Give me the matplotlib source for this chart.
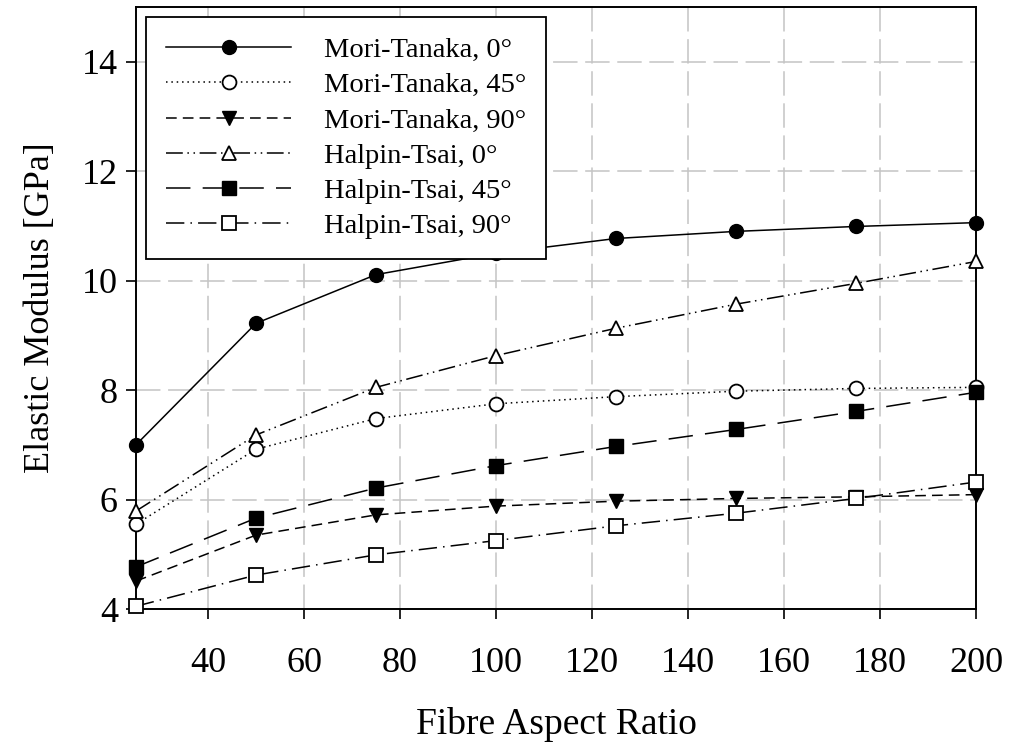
import numpy as np
import matplotlib.pyplot as plt

plt.rcParams['font.family'] = ['Liberation Serif', 'DejaVu Serif']

aspect = [25, 50, 75, 100, 125, 150, 175, 200]

mt_0 = [7.0, 9.22, 10.11, 10.5, 10.77, 10.90, 10.99, 11.06]
mt_45 = [5.55, 6.92, 7.48, 7.75, 7.88, 7.98, 8.03, 8.05]
mt_90 = [4.51, 5.35, 5.72, 5.88, 5.97, 6.02, 6.05, 6.09]
ht_0 = [5.79, 7.18, 8.05, 8.63, 9.13, 9.57, 9.95, 10.35]
ht_45 = [4.77, 5.66, 6.21, 6.62, 6.97, 7.28, 7.61, 7.96]
ht_90 = [4.05, 4.62, 4.99, 5.25, 5.52, 5.75, 6.02, 6.32]

labels = ['Mori-Tanaka, 0\u00b0', 'Mori-Tanaka, 45\u00b0', 'Mori-Tanaka, 90\u00b0',
          'Halpin-Tsai, 0\u00b0', 'Halpin-Tsai, 45\u00b0', 'Halpin-Tsai, 90\u00b0']

fig = plt.figure(figsize=(10.12, 7.44), dpi=100)
ax = fig.add_axes([136/1012, 1 - 609/744, 840/1012, 602/744])

ms = 10
lw = 1.1
kw = dict(color='black', lw=lw, ms=ms, mec='black', clip_on=False, zorder=3)
ax.plot(aspect, mt_0, ls='-', marker='o', mfc='black', label=labels[0], **kw)
ax.plot(aspect, mt_45, ls=(0, (1, 2.5)), marker='o', mfc='white', mew=1.3,
        label=labels[1], **kw)
ax.plot(aspect, mt_90, ls=(0, (7, 4)), marker='v', mfc='black', label=labels[2], **kw)
ax.plot(aspect, ht_0, ls=(0, (11, 3, 1, 3, 1, 3)), marker='^', mfc='white', mew=1.3,
        label=labels[3], **kw)
ax.plot(aspect, ht_45, ls=(0, (16, 8)), marker='s', mfc='black', label=labels[4], **kw)
ax.plot(aspect, ht_90, ls=(0, (12, 4, 1, 4)), marker='s', mfc='white', mew=1.3,
        label=labels[5], **kw)

ax.set_xlim(25, 200)
ax.set_ylim(4, 15)
ax.set_xticks([40, 60, 80, 100, 120, 140, 160, 180, 200])
ax.set_yticks([4, 6, 8, 10, 12, 14])
ax.grid(True, color='#c4c4c4', ls=(0, (16, 5)), lw=1.1)
ax.set_axisbelow(True)
ax.tick_params(labelsize=26, direction='out', length=7, width=1.2)
ax.tick_params(axis='x', pad=20)
ax.tick_params(axis='y', pad=6)
for s in ax.spines.values():
    s.set_linewidth(1.4)

ax.set_xlabel('Fibre Aspect Ratio', fontsize=27, labelpad=20)
ax.set_ylabel('Elastic Modulus [GPa]', fontsize=26, labelpad=18)

leg = ax.legend(loc='upper left', fontsize=20.5, handlelength=4.4, fancybox=False,
                framealpha=1, edgecolor='black', borderpad=0.7, labelspacing=0.33,
                handletextpad=1.15, borderaxespad=0.35)
leg.get_frame().set_linewidth(1.3)

fig.savefig('out.png', dpi=100)
